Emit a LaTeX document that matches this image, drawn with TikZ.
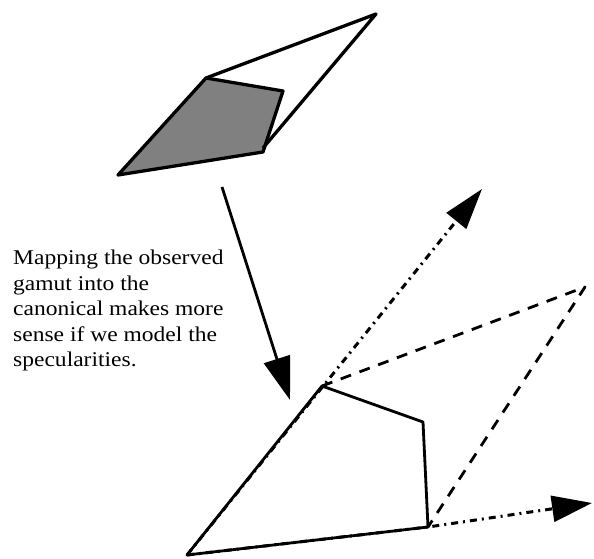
\documentclass[tikz,border=0pt]{standalone}
\usepackage{fontspec}
\setmainfont{Liberation Serif}
\newfontfamily\notafont[FakeStretch=1.12]{Liberation Serif}
\usetikzlibrary{arrows.meta, calc}

\begin{document}
\begin{tikzpicture}[x=1pt, y=-1pt, line join=round,
  punteado/.style={line width=3pt, dash pattern=on 7pt off 5pt on 2pt off 5pt},
  rayado/.style={line width=2.8pt, dash pattern=on 11pt off 9pt}]
  \useasboundingbox (0,0) rectangle (594,559);
  % gama observada (arriba)
  \coordinate (A) at (206,78);
  \coordinate (B) at (283,91);
  \coordinate (C) at (263,152);
  \coordinate (D) at (118,175);
  \coordinate (T) at (376,14);
  \fill[black!50] (A) -- (B) -- (C) -- (D) -- cycle;
  \draw[line width=3.3pt] (A) -- (B) -- (C) -- (D) -- cycle;
  \draw[line width=3.3pt] (A) -- (T) -- ($(C)+(0,-4)$);
  % texto
  \node[anchor=north west, align=left, inner sep=0pt,
        font=\notafont\fontsize{21}{25.5}\selectfont] (nota) at (13,250)
    {Mapping the observed\\gamut into the\\canonical makes more\\sense if we model the\\specularities.};
  % flecha de la transformacion
  \coordinate (P) at (222,187);
  \coordinate (Q) at (290,400);
  \draw[line width=2.8pt, -{Triangle[length=43pt, width=27pt]}] (P) -- (Q);
  % gama canonica (abajo)
  \coordinate (O) at (187,555);
  \coordinate (E) at (322,386);
  \coordinate (F) at (423,422);
  \coordinate (G) at (428,527);
  \draw[line width=2.8pt] (O) -- (E) -- (F) -- (G) -- cycle;
  % ejes punteados desde el origen
  \coordinate (U) at (482,189);
  \coordinate (R) at (592,503);
  \draw[punteado, -{Triangle[length=41pt, width=25pt]}] (O) -- (U);
  \draw[punteado, -{Triangle[length=40pt, width=26pt]}] (O) -- (G) -- (R);
  % contorno con especularidades
  \coordinate (S) at (585,287);
  \draw[rayado] (E) -- (S) -- (G);
\end{tikzpicture}
\end{document}
